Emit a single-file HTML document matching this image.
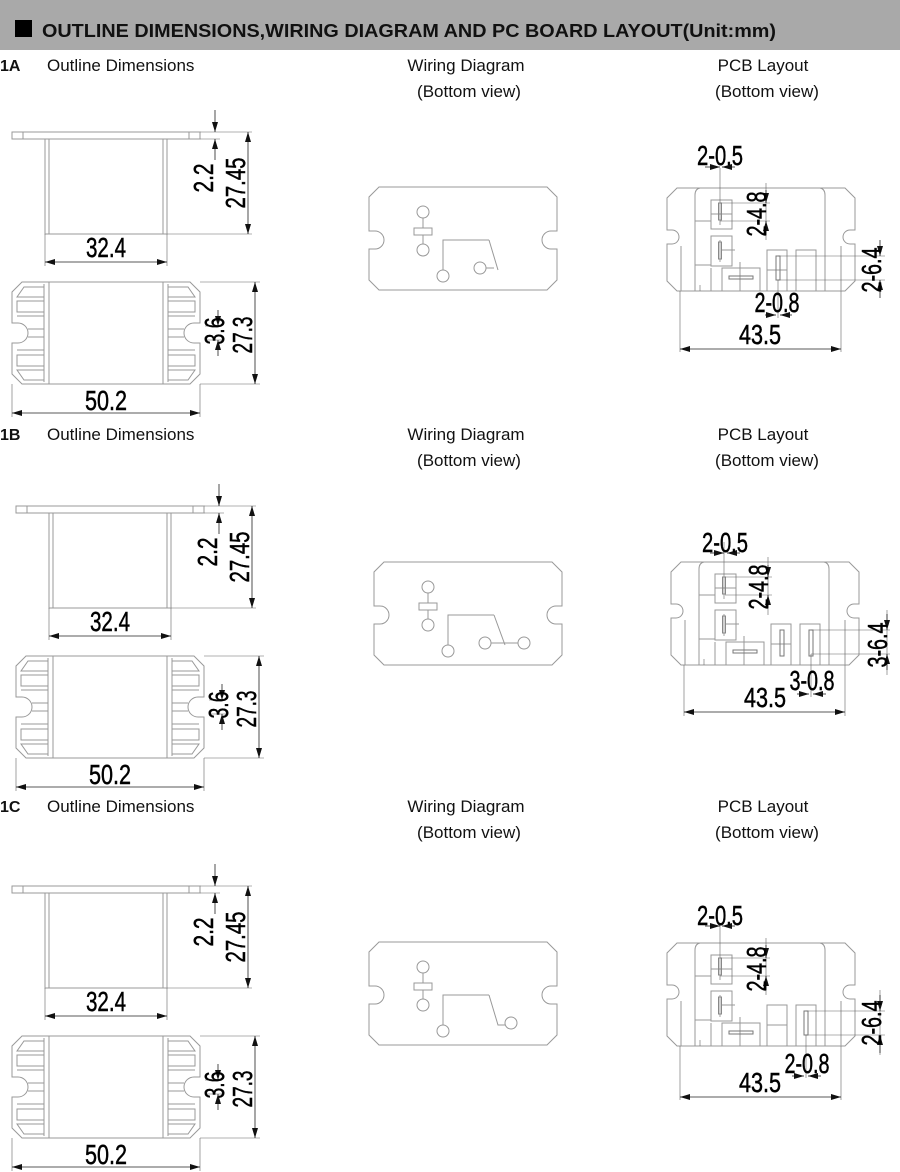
<!DOCTYPE html>
<html><head><meta charset="utf-8"><style>
html,body{margin:0;padding:0;background:#fff}
svg{display:block}
.t{font-family:"Liberation Sans",sans-serif;fill:#111}
.d{font-family:"Liberation Sans",sans-serif;fill:#000;font-size:28px;stroke:#000;stroke-width:0.5}
.g{fill:none;stroke:#999;stroke-width:1}
.k{fill:none;stroke:#222;stroke-width:0.8}
.e{fill:none;stroke:#666;stroke-width:0.6}
</style></head><body>
<svg width="900" height="1172" viewBox="0 0 900 1172" xmlns="http://www.w3.org/2000/svg">
<defs>
<marker id="a" viewBox="0 0 10 6" refX="10" refY="3" markerWidth="10" markerHeight="6" markerUnits="userSpaceOnUse" orient="auto-start-reverse"><path d="M0,0 L10,3 L0,6 z" fill="#111"/></marker>
<g id="side">
<path class="g" d="M12,132 H200 V139 H12 Z M45,139 V234 H167 V139 M49,139 V234 M163,139 V234 M23,132 V139 M189,132 V139"/>
</g>
<g id="bot">
<path class="g" d="M22,282 H190 L200,292 V323 H194 A10,10 0 0 0 194,343 H200 V374 L190,384 H22 L12,374 V343 H18 A10,10 0 0 0 18,323 H12 V292 Z"/>
<rect class="g" x="49" y="282" width="114" height="102"/>
<path class="g" d="M44,284 V382 M168,284 V382"/>
<path class="g" d="M24,287 H44 V297 H17 Z M17,301 H44 V312 H17 Z M17,316 H44 V329 H28 M28,337 H44 V350 H17 M17,355 H44 V366 H17 Z M17,370 H44 V380 H24 Z"/>
<path class="g" d="M188,287 H168 V297 H195 Z M195,301 H168 V312 H195 Z M195,316 H168 V329 H184 M184,337 H168 V350 H195 M195,355 H168 V366 H195 Z M195,370 H168 V380 H188 Z"/>
</g>
<g id="odim">
<path class="e" d="M45,234 V266 M167,234 V266 M200,132 H252 M167,234 H252 M200,139 H220 M12,384 V417 M200,384 V417 M200,282 H260 M200,384 H260 M205,326 H222 M205,340 H222"/>
<line class="k" x1="45" y1="262" x2="167" y2="262" marker-start="url(#a)" marker-end="url(#a)"/>
<line class="k" x1="248" y1="132" x2="248" y2="234" marker-start="url(#a)" marker-end="url(#a)"/>
<line class="k" x1="215" y1="110" x2="215" y2="132" marker-end="url(#a)"/>
<line class="k" x1="215" y1="160" x2="215" y2="139" marker-end="url(#a)"/>
<line class="k" x1="12" y1="413" x2="200" y2="413" marker-start="url(#a)" marker-end="url(#a)"/>
<line class="k" x1="255" y1="282" x2="255" y2="384" marker-start="url(#a)" marker-end="url(#a)"/>
<line class="k" x1="218" y1="310" x2="218" y2="326" marker-end="url(#a)"/>
<line class="k" x1="218" y1="356" x2="218" y2="340" marker-end="url(#a)"/>
<text class="d" x="106" y="257" text-anchor="middle" textLength="40" lengthAdjust="spacingAndGlyphs">32.4</text>
<text class="d" x="106" y="410" text-anchor="middle" textLength="42" lengthAdjust="spacingAndGlyphs">50.2</text>
<text class="d" transform="translate(245,183) rotate(-90)" text-anchor="middle" textLength="51" lengthAdjust="spacingAndGlyphs">27.45</text>
<text class="d" transform="translate(213,178) rotate(-90)" text-anchor="middle" textLength="29" lengthAdjust="spacingAndGlyphs">2.2</text>
<text class="d" transform="translate(252,335) rotate(-90)" text-anchor="middle" textLength="37" lengthAdjust="spacingAndGlyphs">27.3</text>
<text class="d" transform="translate(224,331) rotate(-90)" text-anchor="middle" textLength="27" lengthAdjust="spacingAndGlyphs">3.6</text>
</g>
<g id="wout">
<path class="g" d="M379,187 H547 L557,197 V231 H551 A9,9 0 0 0 551,249 H557 V280 L547,290 H379 L369,280 V249 H375 A9,9 0 0 0 375,231 H369 V197 Z"/>
<circle class="g" cx="423" cy="212" r="6"/><circle class="g" cx="423" cy="250" r="6"/>
<rect class="g" x="414" y="228" width="18" height="7"/>
<path class="g" d="M423,218 V228 M423,235 V244"/>
<circle class="g" cx="443" cy="276" r="6"/>
<path class="g" d="M443,270 V240 H489"/>
</g>
<g id="pcb">
<path class="g" d="M677,188 H845 L855,198 V230 H850 A7,7 0 0 0 850,244 H855 V281 L845,291 H677 L667,281 V244 H672 A7,7 0 0 0 672,230 H667 V198 Z"/>
<path class="g" d="M695,291 V195 Q695,189 700,188 M825,291 V195 Q825,189 820,188 M681,246 V291 M841,246 V291"/>
<rect class="g" x="711" y="200" width="21" height="29"/>
<rect class="g" x="711" y="236" width="21" height="30"/>
<rect class="g" x="722" y="268" width="38" height="23"/>
<rect class="g" x="767" y="250" width="20" height="41"/>
<rect class="g" x="796" y="250" width="20" height="41"/>
<path class="g" d="M695,221 H711 M695,265 H711 M711,268 V291 M711,214 H732 M721,250 H735 M740,262 V291 M767,270 H787"/>
<path class="e" d="M720,168 V225 M720,240 V262 M700,285 V291"/>
<rect x="718.5" y="203" width="3" height="17" fill="none" stroke="#888"/>
<rect x="718.5" y="242" width="3" height="17" fill="none" stroke="#888"/>
<rect x="729" y="276" width="24" height="3" fill="none" stroke="#777"/>
</g>
</defs>

<rect x="0" y="0" width="900" height="50" fill="#a9a9a9"/>
<rect x="15" y="20" width="17" height="17" fill="#000"/>
<text class="t" x="42" y="37" font-size="18" font-weight="bold" fill="#000" textLength="734" lengthAdjust="spacingAndGlyphs">OUTLINE DIMENSIONS,WIRING DIAGRAM AND PC BOARD LAYOUT(Unit:mm)</text>

<g>
<text class="t" x="0" y="71" font-size="16" font-weight="bold">1A</text>
<text class="t" x="47" y="71" font-size="17">Outline Dimensions</text>
<text class="t" x="466" y="71" font-size="17" text-anchor="middle">Wiring Diagram</text>
<text class="t" x="469" y="97" font-size="17" text-anchor="middle">(Bottom view)</text>
<text class="t" x="763" y="71" font-size="17" text-anchor="middle">PCB Layout</text>
<text class="t" x="767" y="97" font-size="17" text-anchor="middle">(Bottom view)</text>
</g>
<g transform="translate(0,369)">
<text class="t" x="0" y="71" font-size="16" font-weight="bold">1B</text>
<text class="t" x="47" y="71" font-size="17">Outline Dimensions</text>
<text class="t" x="466" y="71" font-size="17" text-anchor="middle">Wiring Diagram</text>
<text class="t" x="469" y="97" font-size="17" text-anchor="middle">(Bottom view)</text>
<text class="t" x="763" y="71" font-size="17" text-anchor="middle">PCB Layout</text>
<text class="t" x="767" y="97" font-size="17" text-anchor="middle">(Bottom view)</text>
</g>
<g transform="translate(0,741)">
<text class="t" x="0" y="71" font-size="16" font-weight="bold">1C</text>
<text class="t" x="47" y="71" font-size="17">Outline Dimensions</text>
<text class="t" x="466" y="71" font-size="17" text-anchor="middle">Wiring Diagram</text>
<text class="t" x="469" y="97" font-size="17" text-anchor="middle">(Bottom view)</text>
<text class="t" x="763" y="71" font-size="17" text-anchor="middle">PCB Layout</text>
<text class="t" x="767" y="97" font-size="17" text-anchor="middle">(Bottom view)</text>
</g>

<use href="#side"/><use href="#bot"/><use href="#odim"/>
<g transform="translate(4,374)"><use href="#side"/><use href="#bot"/><use href="#odim"/></g>
<g transform="translate(0,754)"><use href="#side"/><use href="#bot"/><use href="#odim"/></g>

<use href="#wout"/>
<path class="g" d="M489,240 L498,270 M486,268 H494"/>
<circle class="g" cx="480" cy="268" r="6"/>
<g transform="translate(5,375)">
<use href="#wout"/>
<path class="g" d="M489,240 L500,270 M486,268 H513"/>
<circle class="g" cx="480" cy="268" r="6"/>
<circle class="g" cx="519" cy="268" r="6"/>
</g>
<g transform="translate(0,755)">
<use href="#wout"/>
<path class="g" d="M489,240 L498,270 H505"/>
<circle class="g" cx="511" cy="268" r="6"/>
</g>

<use href="#pcb"/>
<rect x="776" y="256" width="4" height="24" fill="none" stroke="#777"/>
<path class="e" d="M720,203 H770 M720,221 H770 M778,256 H885 M778,280 H885 M778,280 V318 M680,291 V352 M841,291 V352 M766,183 V240"/>
<line class="k" x1="705" y1="167" x2="720" y2="167" marker-end="url(#a)"/>
<line class="k" x1="735" y1="167" x2="722" y2="167" marker-end="url(#a)"/>
<line class="k" x1="766" y1="190" x2="766" y2="203" marker-end="url(#a)"/>
<line class="k" x1="766" y1="235" x2="766" y2="221" marker-end="url(#a)"/>
<line class="k" x1="880" y1="240" x2="880" y2="256" marker-end="url(#a)"/>
<line class="k" x1="880" y1="298" x2="880" y2="280" marker-end="url(#a)"/>
<line class="k" x1="765" y1="315" x2="776" y2="315" marker-end="url(#a)"/>
<line class="k" x1="792" y1="315" x2="780" y2="315" marker-end="url(#a)"/>
<line class="k" x1="680" y1="349" x2="841" y2="349" marker-start="url(#a)" marker-end="url(#a)"/>
<text class="d" x="720" y="165" text-anchor="middle" textLength="46" lengthAdjust="spacingAndGlyphs">2-0.5</text>
<text class="d" transform="translate(766,214) rotate(-90)" text-anchor="middle" textLength="45" lengthAdjust="spacingAndGlyphs">2-4.8</text>
<text class="d" transform="translate(881,270) rotate(-90)" text-anchor="middle" textLength="45" lengthAdjust="spacingAndGlyphs">2-6.4</text>
<text class="d" x="777" y="312" text-anchor="middle" textLength="45" lengthAdjust="spacingAndGlyphs">2-0.8</text>
<text class="d" x="760" y="344" text-anchor="middle" textLength="42" lengthAdjust="spacingAndGlyphs">43.5</text>

<g transform="translate(4,374)"><use href="#pcb"/></g>
<rect x="780" y="630" width="4" height="26" fill="none" stroke="#777"/>
<rect x="809" y="630" width="4" height="26" fill="none" stroke="#777"/>
<path class="e" d="M725,577 H772 M725,595 H772 M811,630 H890 M811,654 H890 M811,654 V697 M684,665 V716 M845,665 V716 M768,557 V615 M887,610 V675"/>
<line class="k" x1="710" y1="553" x2="724" y2="553" marker-end="url(#a)"/>
<line class="k" x1="740" y1="553" x2="727" y2="553" marker-end="url(#a)"/>
<line class="k" x1="768" y1="565" x2="768" y2="577" marker-end="url(#a)"/>
<line class="k" x1="768" y1="608" x2="768" y2="595" marker-end="url(#a)"/>
<line class="k" x1="887" y1="614" x2="887" y2="630" marker-end="url(#a)"/>
<line class="k" x1="887" y1="670" x2="887" y2="654" marker-end="url(#a)"/>
<line class="k" x1="797" y1="694" x2="809" y2="694" marker-end="url(#a)"/>
<line class="k" x1="826" y1="694" x2="813" y2="694" marker-end="url(#a)"/>
<line class="k" x1="684" y1="712" x2="845" y2="712" marker-start="url(#a)" marker-end="url(#a)"/>
<text class="d" x="725" y="552" text-anchor="middle" textLength="46" lengthAdjust="spacingAndGlyphs">2-0.5</text>
<text class="d" transform="translate(768,587) rotate(-90)" text-anchor="middle" textLength="45" lengthAdjust="spacingAndGlyphs">2-4.8</text>
<text class="d" transform="translate(887,645) rotate(-90)" text-anchor="middle" textLength="45" lengthAdjust="spacingAndGlyphs">3-6.4</text>
<text class="d" x="812" y="690" text-anchor="middle" textLength="45" lengthAdjust="spacingAndGlyphs">3-0.8</text>
<text class="d" x="765" y="707" text-anchor="middle" textLength="42" lengthAdjust="spacingAndGlyphs">43.5</text>

<g transform="translate(0,755)"><use href="#pcb"/></g>
<rect x="804" y="1011" width="4" height="24" fill="none" stroke="#777"/>
<path class="e" d="M720,958 H770 M720,976 H770 M806,1011 H885 M806,1035 H885 M806,1035 V1078 M680,1046 V1100 M841,1046 V1100 M766,938 V995 M880,990 V1055"/>
<line class="k" x1="705" y1="926" x2="720" y2="926" marker-end="url(#a)"/>
<line class="k" x1="735" y1="926" x2="722" y2="926" marker-end="url(#a)"/>
<line class="k" x1="766" y1="945" x2="766" y2="958" marker-end="url(#a)"/>
<line class="k" x1="766" y1="990" x2="766" y2="976" marker-end="url(#a)"/>
<line class="k" x1="880" y1="995" x2="880" y2="1011" marker-end="url(#a)"/>
<line class="k" x1="880" y1="1053" x2="880" y2="1035" marker-end="url(#a)"/>
<line class="k" x1="792" y1="1076" x2="804" y2="1076" marker-end="url(#a)"/>
<line class="k" x1="821" y1="1076" x2="808" y2="1076" marker-end="url(#a)"/>
<line class="k" x1="680" y1="1097" x2="841" y2="1097" marker-start="url(#a)" marker-end="url(#a)"/>
<text class="d" x="720" y="925" text-anchor="middle" textLength="46" lengthAdjust="spacingAndGlyphs">2-0.5</text>
<text class="d" transform="translate(766,969) rotate(-90)" text-anchor="middle" textLength="45" lengthAdjust="spacingAndGlyphs">2-4.8</text>
<text class="d" transform="translate(881,1023) rotate(-90)" text-anchor="middle" textLength="45" lengthAdjust="spacingAndGlyphs">2-6.4</text>
<text class="d" x="807" y="1073" text-anchor="middle" textLength="45" lengthAdjust="spacingAndGlyphs">2-0.8</text>
<text class="d" x="760" y="1092" text-anchor="middle" textLength="42" lengthAdjust="spacingAndGlyphs">43.5</text>
</svg>
</body></html>
